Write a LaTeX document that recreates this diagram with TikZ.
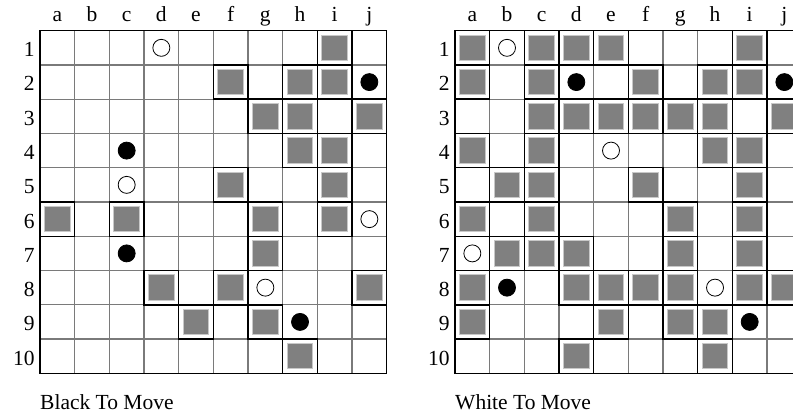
\documentclass[tikz,border=0pt]{standalone}
\usepackage{fontspec}
\setmainfont{Liberation Serif}
\definecolor{blockgray}{HTML}{808080}
\definecolor{blockedge}{HTML}{C8C8C8}
\definecolor{linegray}{HTML}{7A7A7A}
\tikzset{
  gridline/.style={draw=linegray, line width=1.2pt},
  outerline/.style={draw=black, line width=1.5pt},
  blockcell/.style={draw=black, line width=1.5pt},
  blocksq/.style={rectangle, fill=blockgray, draw=blockedge, line width=1pt, minimum size=25.5pt, inner sep=0pt},
  whitestone/.style={circle, draw=black, fill=white, line width=0.8pt, minimum size=17pt, inner sep=0pt},
  blackstone/.style={circle, draw=black, fill=black, line width=0.8pt, minimum size=17pt, inner sep=0pt},
  lbl/.style={inner sep=0pt, font=\fontsize{21.5}{25}\selectfont},
}
\begin{document}
\begin{tikzpicture}[x=1pt,y=-1pt]
\useasboundingbox (0,0) rectangle (793,414);
\clip (0,0) rectangle (793,414);
% ---------------- left board ----------------
\begin{scope}[x=34.67pt, y=-34.26pt, shift={(40pt,-30.7pt)}]
  \foreach \i in {1,...,9} {
    \draw[gridline] (\i,0) -- (\i,10);
    \draw[gridline] (0,\i) -- (10,\i);
  }
  \foreach \c/\r [count=\k] in {9/1, 6/2, 8/2, 9/2, 7/3, 8/3, 10/3, 8/4, 9/4, 6/5, 9/5,
     1/6, 3/6, 7/6, 9/6, 7/7, 4/8, 6/8, 10/8, 5/9, 7/9, 8/10} {
    \draw[blockcell] (\c-1,\r-1) rectangle (\c,\r);
  }
  \foreach \c/\r [count=\k] in {9/1, 6/2, 8/2, 9/2, 7/3, 8/3, 10/3, 8/4, 9/4, 6/5, 9/5,
     1/6, 3/6, 7/6, 9/6, 7/7, 4/8, 6/8, 10/8, 5/9, 7/9, 8/10} {
    \node[blocksq] (LB\k) at (\c-0.5,\r-0.5) {};
  }
  \draw[outerline] (0,0) rectangle (10,10);
  \foreach \c/\r [count=\k] in {4/1, 3/5, 10/6, 7/8} {
    \node[whitestone] (LW\k) at (\c-0.5,\r-0.5) {};
  }
  \foreach \c/\r [count=\k] in {10/2, 3/4, 3/7, 8/9} {
    \node[blackstone] (LK\k) at (\c-0.5,\r-0.5) {};
  }
  \foreach \l [count=\c] in {a,b,c,d,e,f,g,h,i,j} {
    \node[lbl, anchor=base] (LC\c) at (\c-0.5,-0.255) {\l};
  }
  \foreach \r in {1,...,10} {
    \node[lbl, anchor=base east] (LR\r) at (-0.15,\r-0.24) {\r};
  }
  \node[lbl, anchor=base west] (Lcap) at (0,11.05) {Black To Move};
\end{scope}
% ---------------- right board ----------------
\begin{scope}[x=34.67pt, y=-34.26pt, shift={(455pt,-30.7pt)}]
  \foreach \i in {1,...,9} {
    \draw[gridline] (\i,0) -- (\i,10);
    \draw[gridline] (0,\i) -- (10,\i);
  }
  \foreach \c/\r [count=\k] in {1/1, 3/1, 4/1, 5/1, 9/1,
     1/2, 3/2, 6/2, 8/2, 9/2,
     3/3, 4/3, 5/3, 6/3, 7/3, 8/3, 10/3,
     1/4, 3/4, 8/4, 9/4,
     2/5, 3/5, 6/5, 9/5,
     1/6, 3/6, 7/6, 9/6,
     2/7, 3/7, 4/7, 7/7, 9/7,
     1/8, 4/8, 5/8, 6/8, 7/8, 9/8, 10/8,
     1/9, 5/9, 7/9, 8/9,
     4/10, 8/10} {
    \draw[blockcell] (\c-1,\r-1) rectangle (\c,\r);
  }
  \foreach \c/\r [count=\k] in {1/1, 3/1, 4/1, 5/1, 9/1,
     1/2, 3/2, 6/2, 8/2, 9/2,
     3/3, 4/3, 5/3, 6/3, 7/3, 8/3, 10/3,
     1/4, 3/4, 8/4, 9/4,
     2/5, 3/5, 6/5, 9/5,
     1/6, 3/6, 7/6, 9/6,
     2/7, 3/7, 4/7, 7/7, 9/7,
     1/8, 4/8, 5/8, 6/8, 7/8, 9/8, 10/8,
     1/9, 5/9, 7/9, 8/9,
     4/10, 8/10} {
    \node[blocksq] (RB\k) at (\c-0.5,\r-0.5) {};
  }
  \draw[outerline] (0,0) rectangle (10,10);
  \foreach \c/\r [count=\k] in {2/1, 5/4, 1/7, 8/8} {
    \node[whitestone] (RW\k) at (\c-0.5,\r-0.5) {};
  }
  \foreach \c/\r [count=\k] in {4/2, 10/2, 2/8, 9/9} {
    \node[blackstone] (RK\k) at (\c-0.5,\r-0.5) {};
  }
  \foreach \l [count=\c] in {a,b,c,d,e,f,g,h,i,j} {
    \node[lbl, anchor=base] (RC\c) at (\c-0.5,-0.255) {\l};
  }
  \foreach \r in {1,...,10} {
    \node[lbl, anchor=base east] (RR\r) at (-0.15,\r-0.24) {\r};
  }
  \node[lbl, anchor=base west] (Rcap) at (0,11.05) {White To Move};
\end{scope}
\end{tikzpicture}
\end{document}
